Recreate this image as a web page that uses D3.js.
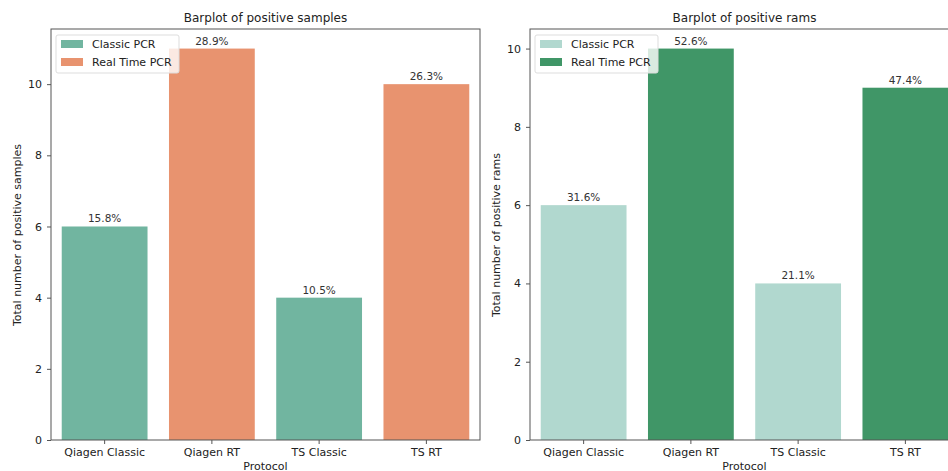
<!DOCTYPE html>
<html>
<head>
<meta charset="utf-8">
<script src="https://cdn.jsdelivr.net/npm/d3@7"></script>
<style>
body { margin: 0; background: #fff; }
svg { font-family: "DejaVu Sans", sans-serif; }
</style>
</head>
<body>
<div id="chart"></div>
<script>
//chart data
var protocols = ["Qiagen Classic", "Qiagen RT", "TS Classic", "TS RT"];
var pcrType = ["Classic PCR", "Real Time PCR", "Classic PCR", "Real Time PCR"];
var samplesValues = [6, 11, 4, 10];
var samplesLabels = ["15.8%", "28.9%", "10.5%", "26.3%"];
var ramsValues = [6, 10, 4, 9];
var ramsLabels = ["31.6%", "52.6%", "21.1%", "47.4%"];
var legendNames = ["Classic PCR", "Real Time PCR"];

var svg = d3.select("#chart").append("svg")
	.attr("width", 948)
	.attr("height", 471);

//draw one barplot panel
function panel(opt){
	var x = d3.scaleBand()
		.domain(protocols)
		.range([opt.left, opt.right])
		.paddingInner(0.2)
		.paddingOuter(0.1);
	var y = d3.scaleLinear()
		.domain([0, d3.max(opt.values) * 1.05])
		.range([440, 29]);
	var color = d3.scaleOrdinal().domain(legendNames).range(opt.colors);

	var g = svg.append("g");

	g.selectAll("rect.bar")
		.data(opt.values)
		.enter()
		.append("rect")
		.attr("class", "bar")
		.attr("x", function(d, i){ return x(protocols[i]); })
		.attr("width", x.bandwidth())
		.attr("y", function(d){ return y(d); })
		.attr("height", function(d){ return y(0) - y(d); })
		.attr("fill", function(d, i){ return color(pcrType[i]); });

	g.selectAll("text.pct")
		.data(opt.values)
		.enter()
		.append("text")
		.attr("class", "pct")
		.attr("x", function(d, i){ return x(protocols[i]) + x.bandwidth() / 2; })
		.attr("y", function(d){ return y(d) - 4; })
		.attr("text-anchor", "middle")
		.attr("font-size", "10.5px")
		.attr("fill", "#333")
		.text(function(d, i){ return opt.labels[i]; });

	//axes
	var yAxis = g.append("g")
		.attr("transform", "translate(" + opt.left + ",0)")
		.call(d3.axisLeft(y).tickValues(opt.ticks).tickSize(4).tickPadding(5).tickFormat(d3.format("d")));
	var xAxis = g.append("g")
		.attr("transform", "translate(0,440)")
		.call(d3.axisBottom(x).tickSize(4).tickPadding(4));
	[yAxis, xAxis].forEach(function(a){
		a.select(".domain").remove();
		a.selectAll("line").attr("stroke", "#555");
		a.selectAll("text").attr("font-size", "11px").attr("fill", "#222").attr("font-family", "DejaVu Sans, sans-serif");
	});

	//frame
	g.append("rect")
		.attr("x", opt.left)
		.attr("y", 29)
		.attr("width", opt.right - opt.left)
		.attr("height", 411)
		.attr("fill", "none")
		.attr("stroke", "#555")
		.attr("stroke-width", 1);

	g.append("text")
		.attr("x", (opt.left + opt.right) / 2)
		.attr("y", 22)
		.attr("text-anchor", "middle")
		.attr("font-size", "12px")
		.attr("fill", "#222")
		.text(opt.title);

	g.append("text")
		.attr("x", (opt.left + opt.right) / 2)
		.attr("y", 470)
		.attr("text-anchor", "middle")
		.attr("font-size", "11px")
		.attr("fill", "#222")
		.text("Protocol");

	g.append("text")
		.attr("transform", "translate(" + opt.ylabelX + ",235) rotate(-90)")
		.attr("text-anchor", "middle")
		.attr("font-size", "11px")
		.attr("fill", "#222")
		.text(opt.ylabel);

	//legend
	var lg = g.append("g").attr("transform", "translate(" + (opt.left + 5) + ",35)");
	lg.append("rect")
		.attr("width", 123)
		.attr("height", 38)
		.attr("rx", 2)
		.attr("fill", "rgba(255,255,255,0.8)")
		.attr("stroke", "#ddd");
	legendNames.forEach(function(name, i){
		lg.append("rect")
			.attr("x", 5)
			.attr("y", 5 + i * 18)
			.attr("width", 22)
			.attr("height", 8)
			.attr("fill", color(name));
		lg.append("text")
			.attr("x", 36)
			.attr("y", 13 + i * 18)
			.attr("font-size", "11px")
			.attr("fill", "#222")
			.text(name);
	});
}

panel({
	left: 51, right: 480,
	values: samplesValues, labels: samplesLabels,
	colors: ["#71b5a0", "#e8936f"],
	ticks: [0, 2, 4, 6, 8, 10],
	title: "Barplot of positive samples",
	ylabel: "Total number of positive samples",
	ylabelX: 21
});

panel({
	left: 530, right: 959,
	values: ramsValues, labels: ramsLabels,
	colors: ["#b1d8cf", "#409667"],
	ticks: [0, 2, 4, 6, 8, 10],
	title: "Barplot of positive rams",
	ylabel: "Total number of positive rams",
	ylabelX: 500
});
</script>
</body>
</html>
